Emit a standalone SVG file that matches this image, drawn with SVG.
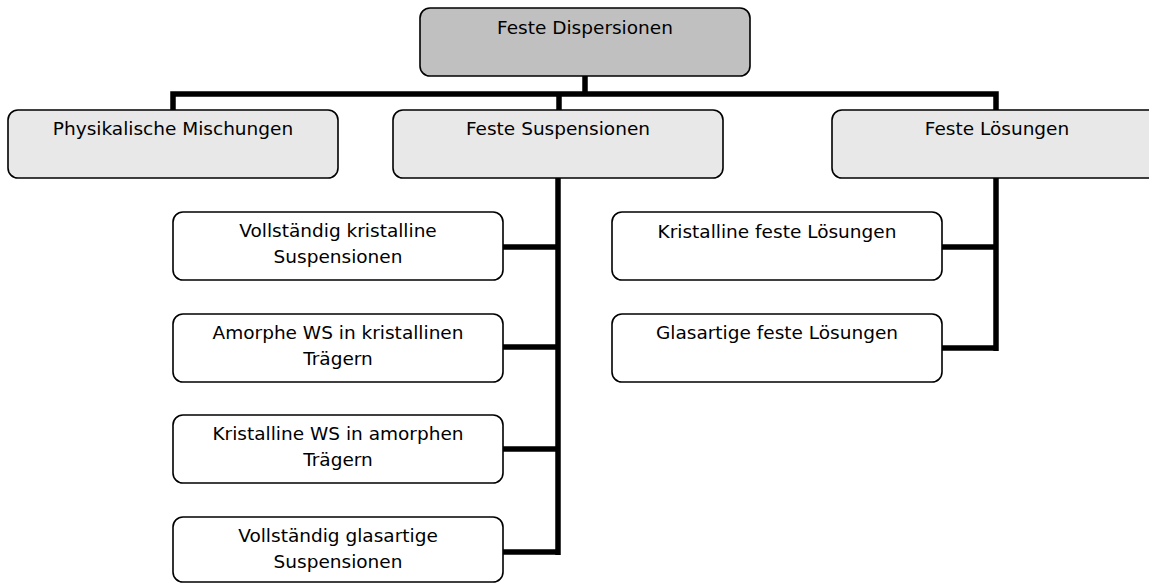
<svg xmlns="http://www.w3.org/2000/svg" width="1149" height="583" viewBox="0 0 1149 583">
<style>
.box{stroke:#000;stroke-width:1.6;}
.root{fill:#c0c0c0;}
.mid{fill:#e8e8e8;}
.leaf{fill:#ffffff;}
text{font-family:"DejaVu Sans",Verdana,sans-serif;font-size:18.5px;fill:#000;text-anchor:middle;}
.con{fill:none;stroke:#000;stroke-width:5.5;stroke-linecap:butt;stroke-linejoin:miter;}
</style>
<rect width="1149" height="583" fill="#fff"/>
<g id="connectors">
<path class="con" d="M585 76 V94"/>
<path class="con" d="M173 110 V94 H996 V110"/>
<path class="con" d="M559 94 V110"/>
<path class="con" d="M558 178 V555"/>
<path class="con" d="M503 247 H560"/>
<path class="con" d="M503 347 H560"/>
<path class="con" d="M503 449 H560"/>
<path class="con" d="M503 552 H560"/>
<path class="con" d="M996 178 V351"/>
<path class="con" d="M942 247 H998"/>
<path class="con" d="M942 348 H998"/>
</g>
<g id="n-root"><rect class="box root" x="420" y="8" width="330" height="68" rx="10"/><text x="585" y="34">Feste Dispersionen</text></g>
<g id="n-phys"><rect class="box mid" x="8" y="110" width="330" height="68" rx="10"/><text x="173" y="135">Physikalische Mischungen</text></g>
<g id="n-susp"><rect class="box mid" x="393" y="110" width="330" height="68" rx="10"/><text x="558" y="135">Feste Suspensionen</text></g>
<g id="n-loes"><rect class="box mid" x="832" y="110" width="330" height="68" rx="10"/><text x="997" y="135">Feste Lösungen</text></g>
<g id="n-s1"><rect class="box leaf" x="173" y="212" width="330" height="68" rx="10"/><text x="338" y="237">Vollständig kristalline</text><text x="338" y="263">Suspensionen</text></g>
<g id="n-s2"><rect class="box leaf" x="173" y="314" width="330" height="68" rx="10"/><text x="338" y="339">Amorphe WS in kristallinen</text><text x="338" y="365">Trägern</text></g>
<g id="n-s3"><rect class="box leaf" x="173" y="415" width="330" height="68" rx="10"/><text x="338" y="440">Kristalline WS in amorphen</text><text x="338" y="466">Trägern</text></g>
<g id="n-s4"><rect class="box leaf" x="173" y="517" width="330" height="65" rx="10"/><text x="338" y="542">Vollständig glasartige</text><text x="338" y="568">Suspensionen</text></g>
<g id="n-l1"><rect class="box leaf" x="612" y="212" width="330" height="68" rx="10"/><text x="777" y="238">Kristalline feste Lösungen</text></g>
<g id="n-l2"><rect class="box leaf" x="612" y="314" width="330" height="68" rx="10"/><text x="777" y="339">Glasartige feste Lösungen</text></g>
</svg>
